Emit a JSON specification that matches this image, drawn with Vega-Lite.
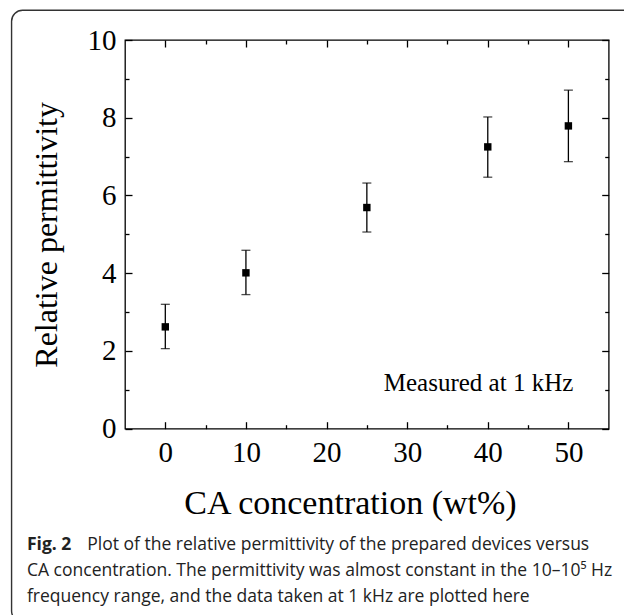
{
  "$schema": "https://vega.github.io/schema/vega-lite/v6.json",
  "autosize": {"type": "none"},
  "padding": {"left": 125, "top": 40, "right": 15.3, "bottom": 186.3},
  "width": 483.7,
  "height": 388.7,
  "background": "white",
  "config": {
    "view": {"stroke": "black", "strokeWidth": 1.3},
    "font": "Liberation Serif"
  },
  "data": {
    "values": [
      {"conc": 0, "val": 2.62, "lo": 2.06, "hi": 3.2},
      {"conc": 10, "val": 4.01, "lo": 3.45, "hi": 4.59},
      {"conc": 25, "val": 5.69, "lo": 5.06, "hi": 6.32},
      {"conc": 40, "val": 7.25, "lo": 6.47, "hi": 8.02},
      {"conc": 50, "val": 7.79, "lo": 6.87, "hi": 8.71}
    ]
  },
  "resolve": {"axis": {"x": "independent", "y": "independent"}},
  "layer": [
    {
      "data": {"values": [{}]},
      "mark": {"type": "rect", "filled": false, "color": "#333", "strokeWidth": 1.4, "cornerRadius": 11},
      "encoding": {
        "x": {"datum": -19.07, "type": "quantitative", "axis": null},
        "x2": {"datum": 59},
        "y": {"datum": 10.764, "type": "quantitative", "axis": null},
        "y2": {"datum": -4.97}
      }
    },
    {
      "mark": {"type": "square", "size": 55, "color": "black", "filled": true, "opacity": 1},
      "encoding": {
        "x": {
          "field": "conc", "type": "quantitative",
          "scale": {"domain": [-5, 55], "nice": false, "zero": false},
          "axis": {
            "orient": "bottom",
            "title": "CA concentration (wt%)",
            "values": [0, 5, 10, 15, 20, 25, 30, 35, 40, 45, 50],
            "labelExpr": "datum.value % 10 === 0 ? datum.label : ''",
            "domain": false, "grid": false,
            "tickColor": "black", "tickWidth": 1.3,
            "tickSize": {"condition": {"test": "datum.value % 10 === 0", "value": -7}, "value": -4},
            "labelFont": "Liberation Serif", "labelFontSize": 29, "labelColor": "black",
            "labelPadding": 17, "labelOverlap": false, "labelFlush": false,
            "titleFont": "Liberation Serif", "titleFontSize": 34, "titleFontWeight": "normal",
            "titleColor": "black", "titlePadding": 16, "titleX": 225
          }
        },
        "y": {
          "field": "val", "type": "quantitative",
          "scale": {"domain": [0, 10], "nice": false, "zero": false},
          "axis": {
            "orient": "left",
            "title": "Relative permittivity",
            "values": [0, 1, 2, 3, 4, 5, 6, 7, 8, 9, 10],
            "labelExpr": "datum.value % 2 === 0 ? datum.label : ''",
            "domain": false, "grid": false,
            "tickColor": "black", "tickWidth": 1.3,
            "tickSize": {"condition": {"test": "datum.value % 2 === 0", "value": -7}, "value": -4},
            "labelFont": "Liberation Serif", "labelFontSize": 29, "labelColor": "black",
            "labelPadding": 16, "labelOverlap": false, "labelFlush": false,
            "titleFont": "Liberation Serif", "titleFontSize": 32, "titleFontWeight": "normal",
            "titleColor": "black", "titlePadding": 24
          }
        }
      }
    },
    {
      "mark": {"type": "errorbar", "ticks": true, "size": 9, "thickness": 1.3, "color": "black"},
      "encoding": {
        "x": {
          "field": "conc", "type": "quantitative",
          "axis": {
            "orient": "top", "title": null, "labels": false,
            "values": [0, 5, 10, 15, 20, 25, 30, 35, 40, 45, 50],
            "domain": false, "grid": false,
            "tickColor": "black", "tickWidth": 1.3,
            "tickSize": {"condition": {"test": "datum.value % 10 === 0", "value": -7}, "value": -4}
          }
        },
        "y": {
          "field": "lo", "type": "quantitative",
          "axis": {
            "orient": "right", "title": null, "labels": false,
            "values": [0, 1, 2, 3, 4, 5, 6, 7, 8, 9, 10],
            "domain": false, "grid": false,
            "tickColor": "black", "tickWidth": 1.3,
            "tickSize": {"condition": {"test": "datum.value % 2 === 0", "value": -7}, "value": -4}
          }
        },
        "y2": {"field": "hi"}
      }
    },
    {
      "data": {"values": [{"label": "Measured at 1 kHz"}]},
      "mark": {"type": "text", "font": "Liberation Serif", "fontSize": 25, "color": "black", "align": "left", "baseline": "alphabetic"},
      "encoding": {
        "x": {"datum": 27.1, "type": "quantitative", "axis": null},
        "y": {"datum": 0.98, "type": "quantitative", "axis": null},
        "text": {"field": "label"}
      }
    },
    {
      "data": {"values": [{"label": "Fig. 2"}]},
      "mark": {"type": "text", "font": "Open Sans", "fontSize": 17.5, "fontWeight": "bold", "color": "#222", "align": "left", "baseline": "alphabetic"},
      "encoding": {
        "x": {"datum": -17.16, "type": "quantitative", "axis": null},
        "y": {"datum": -3.121, "type": "quantitative", "axis": null},
        "text": {"field": "label"}
      }
    },
    {
      "data": {"values": [{"label": "Plot of the relative permittivity of the prepared devices versus"}]},
      "mark": {"type": "text", "font": "Open Sans", "fontSize": 17.5, "color": "#222", "align": "left", "baseline": "alphabetic"},
      "encoding": {
        "x": {"datum": -9.68, "type": "quantitative", "axis": null},
        "y": {"datum": -3.121, "type": "quantitative", "axis": null},
        "text": {"field": "label"}
      }
    },
    {
      "data": {"values": [{"label": ["CA concentration. The permittivity was almost constant in the 10–10⁵ Hz", "frequency range, and the data taken at 1 kHz are plotted here"]}]},
      "mark": {"type": "text", "font": "Open Sans", "fontSize": 17.5, "lineHeight": 25.5, "color": "#222", "align": "left", "baseline": "alphabetic"},
      "encoding": {
        "x": {"datum": -17.16, "type": "quantitative", "axis": null},
        "y": {"datum": -3.79, "type": "quantitative", "axis": null},
        "text": {"field": "label"}
      }
    }
  ]
}
